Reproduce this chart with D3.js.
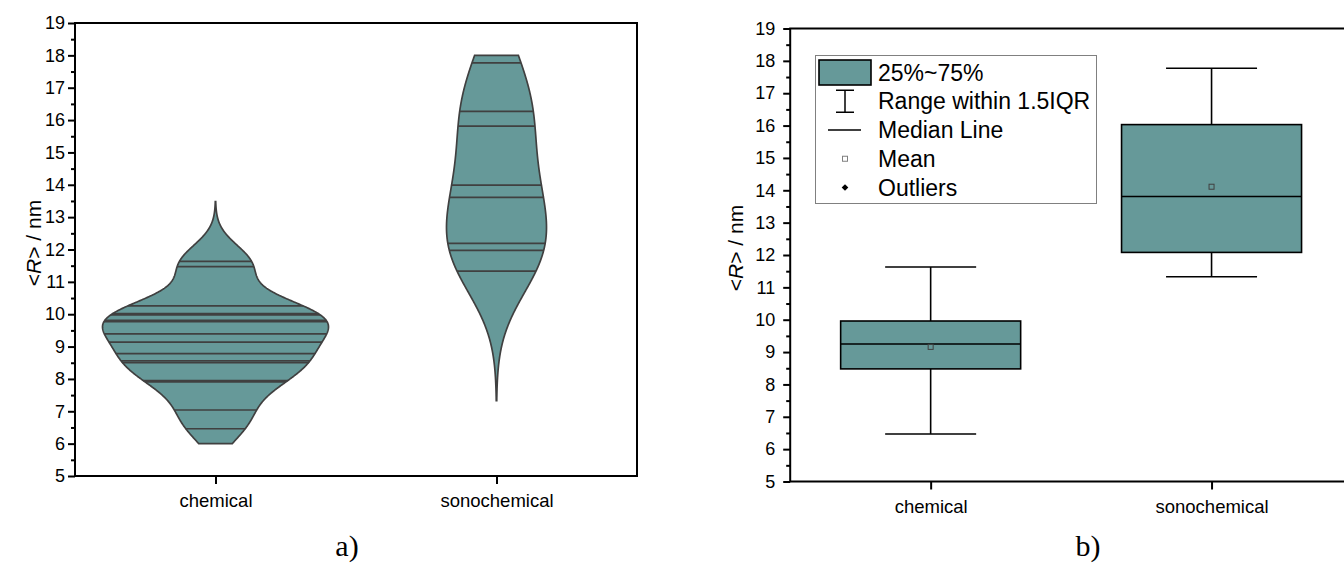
<!DOCTYPE html>
<html>
<head>
<meta charset="utf-8">
<script src="https://cdn.jsdelivr.net/npm/d3@7"></script>
<style>
  html, body { margin: 0; padding: 0; background: #fff; }
  svg { display: block; font-family: 'Liberation Sans', Arial, sans-serif; }
</style>
</head>
<body>
<svg id="chart" width="1344" height="565"></svg>
<script>
const categories = ['chemical', 'sonochemical'];

// single <R> values, shown as lines inside the violins (panel a)
const chemicalR = [6.46, 7.04, 7.91, 7.95, 8.50, 8.56, 8.78, 9.14, 9.39, 9.77, 9.81, 9.98, 10.02, 10.26, 11.47, 11.63];
const sonochemicalR = [11.33, 11.97, 12.19, 13.61, 13.99, 15.81, 16.27, 17.77];
const kdeBandwidth = [0.6, 1.37];
const violinLow = [6.0, 7.33];
const violinHigh = [13.48, 18.0];

// box chart statistics (panel b)
const boxQ1 = [8.48, 12.08];
const boxMedian = [9.25, 13.81];
const boxQ3 = [9.96, 16.03];
const whiskerLow = [6.47, 11.33];
const whiskerHigh = [11.63, 17.77];
const boxMean = [9.16, 14.11];

const yTicks = [5, 6, 7, 8, 9, 10, 11, 12, 13, 14, 15, 16, 17, 18, 19];
const yMinorTicks = [5.5, 6.5, 7.5, 8.5, 9.5, 10.5, 11.5, 12.5, 13.5, 14.5, 15.5, 16.5, 17.5, 18.5];
const legendLabels = ['25%~75%', 'Range within 1.5IQR', 'Median Line', 'Mean', 'Outliers'];
const panelLabels = ['a)', 'b)'];

const FILL = '#669999';
const LINE = '#404040';
const FONT = "'Liberation Sans', Arial, sans-serif";

const svg = d3.select('#chart');

function makePanel(box) {
  const x = d3.scaleLinear().domain([0.5, 2.5]).range([box.left, box.right]);
  const y = d3.scaleLinear().domain([5, 19]).range([box.bottom, box.top]);
  const g = svg.append('g');
  const marks = g.append('g');

  const yAxis = g.append('g')
    .attr('transform', `translate(${box.left},0)`)
    .call(d3.axisLeft(y).tickValues(yTicks).tickSize(7).tickPadding(box.yPad));
  g.append('g')
    .attr('transform', `translate(${box.left},0)`)
    .call(d3.axisLeft(y).tickValues(yMinorTicks).tickSize(4).tickFormat(''));
  const xAxis = g.append('g')
    .attr('transform', `translate(0,${box.bottom})`)
    .call(d3.axisBottom(x).tickValues([1, 2]).tickSize(8).tickPadding(10)
      .tickFormat(d => categories[d - 1]));

  g.selectAll('.domain').remove();
  g.selectAll('.tick line').attr('stroke', '#000').attr('stroke-width', 2);
  yAxis.attr('font-family', FONT).attr('font-size', 18);
  xAxis.attr('font-family', FONT).attr('font-size', 18.5);
  g.selectAll('.tick text').attr('fill', '#000');

  g.append('rect')
    .attr('x', box.left)
    .attr('y', box.top)
    .attr('width', box.right - box.left)
    .attr('height', box.bottom - box.top)
    .attr('fill', 'none')
    .attr('stroke', '#000')
    .attr('stroke-width', 2);

  const title = g.append('text')
    .attr('transform', `translate(${box.titleX},${box.titleY}) rotate(-90)`)
    .attr('text-anchor', 'middle')
    .attr('dy', '0.36em')
    .attr('font-size', 21);
  title.append('tspan').text('<');
  title.append('tspan').attr('font-style', 'italic').text('R');
  title.append('tspan').text('> / nm');

  svg.append('text')
    .attr('x', box.labelX)
    .attr('y', 556)
    .attr('text-anchor', 'middle')
    .attr('font-family', "'Liberation Serif', 'Times New Roman', serif")
    .attr('font-size', 30)
    .text(box.label);

  return { x, y, marks };
}

// ---------- panel a: violins ----------
const a = makePanel({ left: 75, right: 637, top: 23, bottom: 476, yPad: 3, titleX: 33, titleY: 243, labelX: 347, label: panelLabels[0] });
const violinHalf = [113, 50];

[chemicalR, sonochemicalR].forEach((values, i) => {
  const h = kdeBandwidth[i];
  const kde = v => d3.sum(values, xi => Math.exp(-0.5 * ((v - xi) / h) ** 2)) / (values.length * h * Math.sqrt(2 * Math.PI));
  const grid = d3.range(violinLow[i], violinHigh[i], 0.02).concat([violinHigh[i]]);
  const dens = grid.map(v => [v, kde(v)]);
  const w = d3.scaleLinear().domain([0, d3.max(dens, d => d[1])]).range([0, violinHalf[i]]);
  const cx = a.x(i + 1);

  a.marks.append('path')
    .datum(dens)
    .attr('fill', FILL)
    .attr('stroke', LINE)
    .attr('stroke-width', 1.7)
    .attr('d', d3.area()
      .y(d => a.y(d[0]))
      .x0(d => cx - w(d[1]))
      .x1(d => cx + w(d[1])));

  a.marks.selectAll(null)
    .data(values)
    .join('line')
    .attr('x1', v => cx - w(kde(v)))
    .attr('x2', v => cx + w(kde(v)))
    .attr('y1', v => a.y(v))
    .attr('y2', v => a.y(v))
    .attr('stroke', LINE)
    .attr('stroke-width', 1.7);
});

// ---------- panel b: box chart ----------
const b = makePanel({ left: 790.2, right: 1352, top: 28.5, bottom: 481.5, yPad: 8, titleX: 735.5, titleY: 248, labelX: 1088, label: panelLabels[1] });
const BOX_HALF = 90;
const CAP_HALF = 45.5;

categories.forEach((c, i) => {
  const cx = b.x(i + 1);
  const g = b.marks.append('g').attr('stroke', '#000').attr('stroke-width', 1.6);
  g.append('line').attr('x1', cx).attr('x2', cx).attr('y1', b.y(whiskerHigh[i])).attr('y2', b.y(boxQ3[i]));
  g.append('line').attr('x1', cx).attr('x2', cx).attr('y1', b.y(boxQ1[i])).attr('y2', b.y(whiskerLow[i]));
  g.append('line').attr('x1', cx - CAP_HALF).attr('x2', cx + CAP_HALF).attr('y1', b.y(whiskerHigh[i])).attr('y2', b.y(whiskerHigh[i]));
  g.append('line').attr('x1', cx - CAP_HALF).attr('x2', cx + CAP_HALF).attr('y1', b.y(whiskerLow[i])).attr('y2', b.y(whiskerLow[i]));
  g.append('rect')
    .attr('x', cx - BOX_HALF)
    .attr('y', b.y(boxQ3[i]))
    .attr('width', 2 * BOX_HALF)
    .attr('height', b.y(boxQ1[i]) - b.y(boxQ3[i]))
    .attr('fill', FILL);
  g.append('line').attr('x1', cx - BOX_HALF).attr('x2', cx + BOX_HALF).attr('y1', b.y(boxMedian[i])).attr('y2', b.y(boxMedian[i]));
  g.append('rect')
    .attr('x', cx - 2.5)
    .attr('y', b.y(boxMean[i]) - 2.5)
    .attr('width', 5)
    .attr('height', 5)
    .attr('fill', 'none')
    .attr('stroke', LINE)
    .attr('stroke-width', 1);
});

// legend
const legend = svg.append('g');
legend.append('rect')
  .attr('x', 815.5).attr('y', 55.5).attr('width', 281).attr('height', 148)
  .attr('fill', '#fff').attr('stroke', '#808080').attr('stroke-width', 1);
const rowY = i => 72.5 + i * 28.75;
const sx = 845;
legend.append('rect')
  .attr('x', 819).attr('y', rowY(0) - 12.5).attr('width', 52).attr('height', 25)
  .attr('fill', FILL).attr('stroke', '#000').attr('stroke-width', 1.6);
const wk = legend.append('g').attr('stroke', '#000').attr('stroke-width', 1.5);
wk.append('line').attr('x1', sx).attr('x2', sx).attr('y1', rowY(1) - 11).attr('y2', rowY(1) + 11);
wk.append('line').attr('x1', sx - 9).attr('x2', sx + 9).attr('y1', rowY(1) - 11).attr('y2', rowY(1) - 11);
wk.append('line').attr('x1', sx - 9).attr('x2', sx + 9).attr('y1', rowY(1) + 11).attr('y2', rowY(1) + 11);
legend.append('line')
  .attr('x1', sx - 17).attr('x2', sx + 16).attr('y1', rowY(2)).attr('y2', rowY(2))
  .attr('stroke', '#000').attr('stroke-width', 1.5);
legend.append('rect')
  .attr('x', sx - 2.5).attr('y', rowY(3) - 2.5).attr('width', 5).attr('height', 5)
  .attr('fill', 'none').attr('stroke', '#808080').attr('stroke-width', 1);
legend.append('path')
  .attr('d', d3.symbol(d3.symbolSquare, 22)())
  .attr('transform', `translate(${sx},${rowY(4)}) rotate(45)`)
  .attr('fill', '#000');
legend.selectAll('text.lbl')
  .data(legendLabels)
  .join('text')
  .attr('class', 'lbl')
  .attr('x', 878)
  .attr('y', (d, i) => rowY(i) + 8.2)
  .attr('font-size', 23)
  .attr('fill', '#000')
  .text(d => d);
</script>
</body>
</html>
